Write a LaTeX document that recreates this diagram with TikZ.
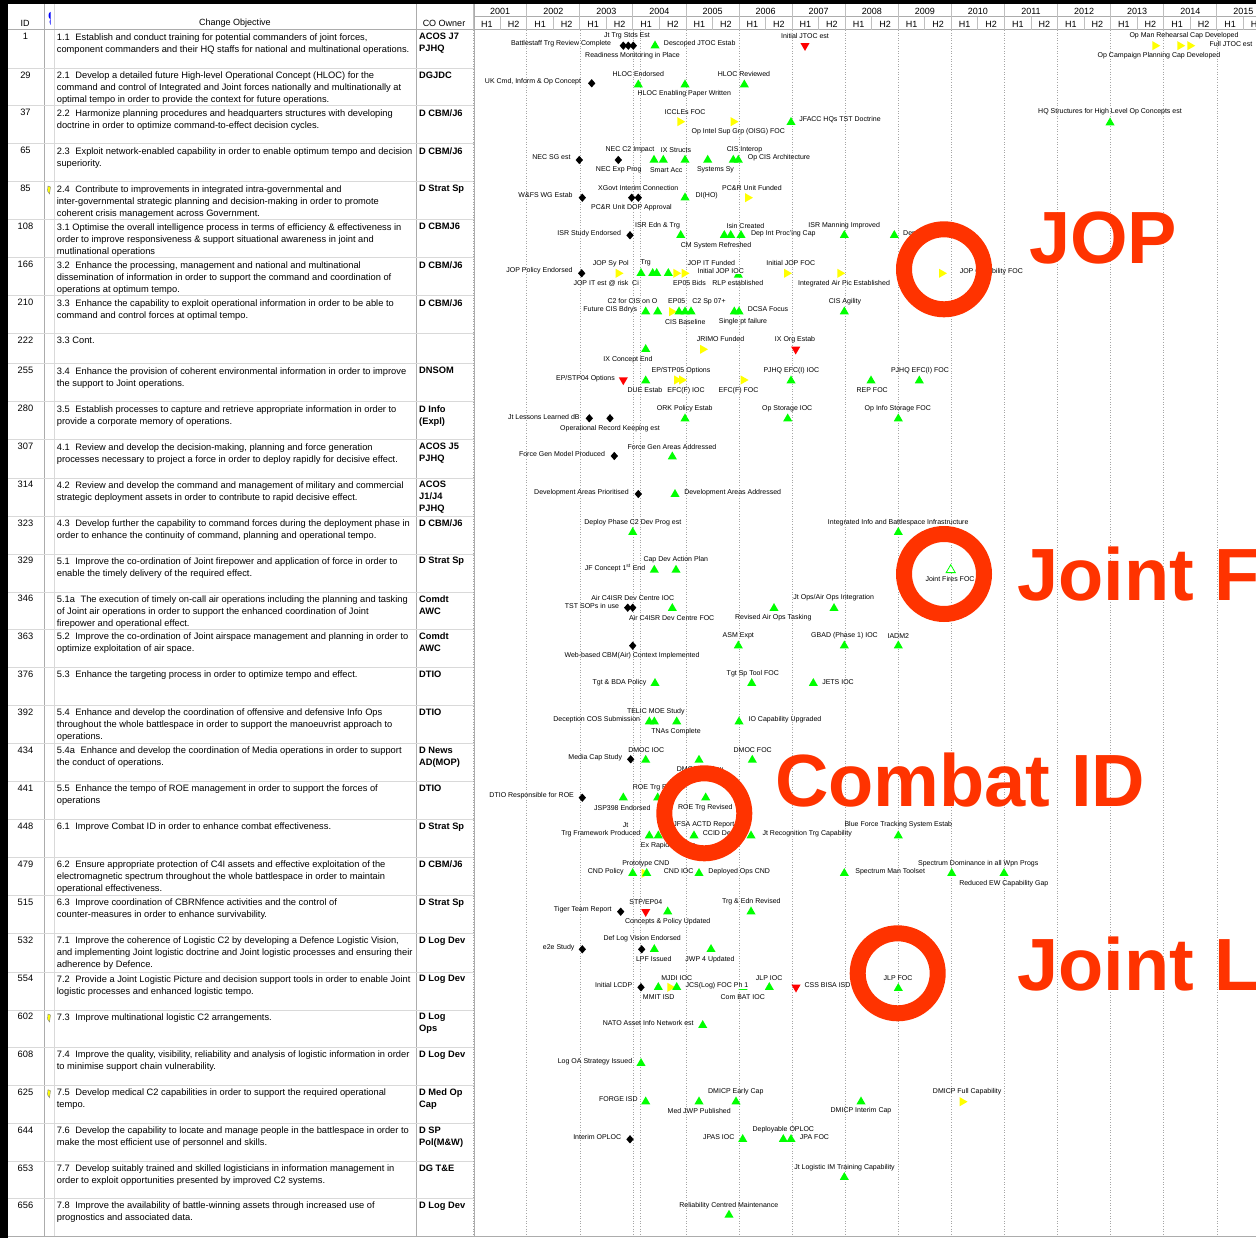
\documentclass[tikz,border=0pt]{standalone}
\usepackage{fontspec}
\setmainfont{Liberation Sans}
\usetikzlibrary{shapes.geometric}

\definecolor{okgreen}{RGB}{0,255,0}
\definecolor{slipyellow}{RGB}{255,255,0}
\definecolor{lateRed}{RGB}{255,0,0}
\definecolor{markRed}{RGB}{255,51,0}

\newcommand{\tabfont}{\fontsize{9.3}{12}\selectfont}
\newcommand{\lblfont}{\fontsize{7}{8}\selectfont}
\newcommand{\hdrfont}{\fontsize{9}{10}\selectfont}
\newcommand{\calloutfont}{\fontsize{74}{80}\selectfont\bfseries}
\newcommand{\cogap}{\hspace{0.6em}}

\begin{document}
\begin{tikzpicture}[x=1pt, y=-1pt,
    hdr/.style={font=\hdrfont, inner sep=0pt}, % Стиль для шапки
    idc/.style={font=\tabfont, inner sep=0pt, anchor=north}, % Номер строки
    obj/.style={font=\tabfont, inner sep=0pt, anchor=north west, align=left}, % Текст цели
    own/.style={font=\tabfont\bfseries, inner sep=0pt, anchor=north west, align=left}, % Владелец
    colline/.style={gray!65, line width=1pt}, % Линии столбцов
    rowline/.style={gray!30, line width=1pt}, % Линии строк
    yearline/.style={gray!70, dotted, line width=0.6pt}, % Линии лет
    lbl/.style={font=\lblfont, inner sep=0pt}, % Подписи вех
    cover/.style={lbl, fill=white, inner sep=0.6pt}, % Подпись поверх вехи
    ok/.style={regular polygon, regular polygon sides=3, fill=okgreen, minimum size=10.5pt, inner sep=0pt}, % Веха выполнена
    hollow/.style={ok, fill=white, draw=okgreen, line width=0.8pt}, % Веха без заливки
    late/.style={ok, fill=lateRed, shape border rotate=180}, % Веха сорвана
    slip/.style={ok, fill=slipyellow, shape border rotate=270}, % Веха сдвинута
    done/.style={diamond, fill=black, minimum width=7.5pt, minimum height=8.5pt, inner sep=0pt}, % Веха завершена
    ring/.style={draw=markRed, line width=16pt}, % Кольцо выделения
    callout/.style={font=\calloutfont, text=markRed, anchor=base west, inner sep=0pt} % Крупная надпись
]

    % Фон и рамка
    \useasboundingbox (0,0) rectangle (1256,1238);
    \clip (0,0) rectangle (1256,1238);
    \fill[white] (0,0) rectangle (1256,1238);
    \fill[black] (0,0) rectangle (1256,4);
    \fill[black] (0,0) rectangle (8,1238);

    % Линии таблицы
    \draw[colline] (44.7,4) -- (44.7,1237);
    \draw[colline, gray!30] (54,4) -- (54,1237);
    \draw[colline] (416.7,4) -- (416.7,1237);
    \draw[colline] (474,4) -- (474,1237);
    \draw[colline] (474,17) -- (1256,17);
    \draw[colline] (8,30) -- (1256,30);
    \draw[colline] (8,1236.7) -- (1256,1236.7);
    \foreach \t in {68.3,106,144,182,220,258,296,333.3,364,402,440,478,516.3,554,592,629.7,667.7,705.7,743.7,781.7,819.7,857.7,895.7,933.7,972,1010,1047.7,1085.7,1123.7,1161.3,1198.7}
        \draw[rowline] (8,\t) -- (474,\t);

    % Шапка таблицы
    \node[hdr] (hID) at (25,23) {ID};
    \node[hdr] (hCO) at (235,23) {Change Objective};
    \node[hdr] (hOwn) at (444,23) {CO Owner};
    \fill[blue] (50.5,19) arc (90:270:2 and 3.5) -- (50.5,25) -- (49.5,22) -- cycle;

    % Шкала времени (годы и полугодия)
    \foreach \yr [count=\k from 0] in {2001,...,2015} {
        \pgfmathsetmacro\xa{473.7+53.08*\k}
        \node[hdr] (Y\yr) at (\xa+26.54,11) {\yr};
        \node[hdr] (H\yr-1) at (\xa+13.27,24) {H1};
        \node[hdr] (H\yr-2) at (\xa+39.81,24) {H2};
        \draw[colline, gray!50] (\xa,4) -- (\xa,30);
        \draw[colline, gray!50] (\xa+26.54,17) -- (\xa+26.54,30);
        \draw[yearline] (\xa,30) -- (\xa,1236);
    }
    \draw[yearline] (640.7,30) -- (640.7,1236);

    % Строки таблицы
    \node[idc] (id1) at (25.5,33.3) {1};
    \node[obj] (co1) at (56.7,33.3) {1.1\cogap Establish and conduct training for potential commanders of joint forces,\\component commanders and their HQ staffs for national and multinational operations.};
    \node[own] (ow1) at (419,33.3) {ACOS J7\\PJHQ};
    \node[idc] (id29) at (25.5,71.6) {29};
    \node[obj] (co29) at (56.7,71.6) {2.1\cogap Develop a detailed future High-level Operational Concept (HLOC) for the\\command and control of Integrated and Joint forces nationally and multinationally at\\optimal tempo in order to provide the context for future operations.};
    \node[own] (ow29) at (419,71.6) {DGJDC};
    \node[idc] (id37) at (25.5,109.3) {37};
    \node[obj] (co37) at (56.7,109.3) {2.2\cogap Harmonize planning procedures and headquarters structures with developing\\doctrine in order to optimize command-to-effect decision cycles.};
    \node[own] (ow37) at (419,109.3) {D CBM/J6};
    \node[idc] (id65) at (25.5,147.3) {65};
    \node[obj] (co65) at (56.7,147.3) {2.3\cogap Exploit network-enabled capability in order to enable optimum tempo and decision\\superiority.};
    \node[own] (ow65) at (419,147.3) {D CBM/J6};
    \node[idc] (id85) at (25.5,185.3) {85};
    \node[obj] (co85) at (56.7,185.3) {2.4\cogap Contribute to improvements in integrated intra-governmental and\\inter-governmental strategic planning and decision-making in order to promote\\coherent crisis management across Government.};
    \node[own] (ow85) at (419,185.3) {D Strat Sp};
    \node[idc] (id108) at (25.5,223.3) {108};
    \node[obj] (co108) at (56.7,223.3) {3.1 Optimise the overall intelligence process in terms of efficiency \& effectiveness in\\order to improve responsiveness \& support situational awareness in joint and\\mutlinational operations};
    \node[own] (ow108) at (419,223.3) {D CBMJ6};
    \node[idc] (id166) at (25.5,261.3) {166};
    \node[obj] (co166) at (56.7,261.3) {3.2\cogap Enhance the processing, management and national and multinational\\dissemination of information in order to support the command and coordination of\\operations at optimum tempo.};
    \node[own] (ow166) at (419,261.3) {D CBM/J6};
    \node[idc] (id210) at (25.5,299.3) {210};
    \node[obj] (co210) at (56.7,299.3) {3.3\cogap Enhance the capability to exploit operational information in order to be able to\\command and control forces at optimal tempo.};
    \node[own] (ow210) at (419,299.3) {D CBM/J6};
    \node[idc] (id222) at (25.5,336.6) {222};
    \node[obj] (co222) at (56.7,336.6) {3.3 Cont.};
    \node[idc] (id255) at (25.5,367.3) {255};
    \node[obj] (co255) at (56.7,367.3) {3.4\cogap Enhance the provision of coherent environmental information in order to improve\\the support to Joint operations.};
    \node[own] (ow255) at (419,367.3) {DNSOM};
    \node[idc] (id280) at (25.5,405.3) {280};
    \node[obj] (co280) at (56.7,405.3) {3.5\cogap Establish processes to capture and retrieve appropriate information in order to\\provide a corporate memory of operations.};
    \node[own] (ow280) at (419,405.3) {D Info\\(Expl)};
    \node[idc] (id307) at (25.5,443.3) {307};
    \node[obj] (co307) at (56.7,443.3) {4.1\cogap Review and develop the decision-making, planning and force generation\\processes necessary to project a force in order to deploy rapidly for decisive effect.};
    \node[own] (ow307) at (419,443.3) {ACOS J5\\PJHQ};
    \node[idc] (id314) at (25.5,481.3) {314};
    \node[obj] (co314) at (56.7,481.3) {4.2\cogap Review and develop the command and management of military and commercial\\strategic deployment assets in order to contribute to rapid decisive effect.};
    \node[own] (ow314) at (419,481.3) {ACOS\\J1/J4\\PJHQ};
    \node[idc] (id323) at (25.5,519.6) {323};
    \node[obj] (co323) at (56.7,519.6) {4.3\cogap Develop further the capability to command forces during the deployment phase in\\order to enhance the continuity of command, planning and operational tempo.};
    \node[own] (ow323) at (419,519.6) {D CBM/J6};
    \node[idc] (id329) at (25.5,557.3) {329};
    \node[obj] (co329) at (56.7,557.3) {5.1\cogap Improve the co-ordination of Joint firepower and application of force in order to\\enable the timely delivery of the required effect.};
    \node[own] (ow329) at (419,557.3) {D Strat Sp};
    \node[idc] (id346) at (25.5,595.3) {346};
    \node[obj] (co346) at (56.7,595.3) {5.1a\cogap The execution of timely on-call air operations including the planning and tasking\\of Joint air operations in order to support the enhanced coordination of Joint\\firepower and operational effect.};
    \node[own] (ow346) at (419,595.3) {Comdt\\AWC};
    \node[idc] (id363) at (25.5,633) {363};
    \node[obj] (co363) at (56.7,633) {5.2\cogap Improve the co-ordination of Joint airspace management and planning in order to\\optimize exploitation of air space.};
    \node[own] (ow363) at (419,633) {Comdt\\AWC};
    \node[idc] (id376) at (25.5,671) {376};
    \node[obj] (co376) at (56.7,671) {5.3\cogap Enhance the targeting process in order to optimize tempo and effect.};
    \node[own] (ow376) at (419,671) {DTIO};
    \node[idc] (id392) at (25.5,709) {392};
    \node[obj] (co392) at (56.7,709) {5.4\cogap Enhance and develop the coordination of offensive and defensive Info Ops\\throughout the whole battlespace in order to support the manoeuvrist approach to\\operations.};
    \node[own] (ow392) at (419,709) {DTIO};
    \node[idc] (id434) at (25.5,747) {434};
    \node[obj] (co434) at (56.7,747) {5.4a\cogap Enhance and develop the coordination of Media operations in order to support\\the conduct of operations.};
    \node[own] (ow434) at (419,747) {D News\\AD(MOP)};
    \node[idc] (id441) at (25.5,785) {441};
    \node[obj] (co441) at (56.7,785) {5.5\cogap Enhance the tempo of ROE management in order to support the forces of\\operations};
    \node[own] (ow441) at (419,785) {DTIO};
    \node[idc] (id448) at (25.5,823) {448};
    \node[obj] (co448) at (56.7,823) {6.1\cogap Improve Combat ID in order to enhance combat effectiveness.};
    \node[own] (ow448) at (419,823) {D Strat Sp};
    \node[idc] (id479) at (25.5,861) {479};
    \node[obj] (co479) at (56.7,861) {6.2\cogap Ensure appropriate protection of C4I assets and effective exploitation of the\\electromagnetic spectrum throughout the whole battlespace in order to maintain\\operational effectiveness.};
    \node[own] (ow479) at (419,861) {D CBM/J6};
    \node[idc] (id515) at (25.5,899) {515};
    \node[obj] (co515) at (56.7,899) {6.3\cogap Improve coordination of CBRNfence activities and the control of\\counter-measures in order to enhance survivability.};
    \node[own] (ow515) at (419,899) {D Strat Sp};
    \node[idc] (id532) at (25.5,937) {532};
    \node[obj] (co532) at (56.7,937) {7.1\cogap Improve the coherence of Logistic C2 by developing a Defence Logistic Vision,\\and implementing Joint logistic doctrine and Joint logistic processes and ensuring their\\adherence by Defence.};
    \node[own] (ow532) at (419,937) {D Log Dev};
    \node[idc] (id554) at (25.5,975.3) {554};
    \node[obj] (co554) at (56.7,975.3) {7.2\cogap Provide a Joint Logistic Picture and decision support tools in order to enable Joint\\logistic processes and enhanced logistic tempo.};
    \node[own] (ow554) at (419,975.3) {D Log Dev};
    \node[idc] (id602) at (25.5,1013.3) {602};
    \node[obj] (co602) at (56.7,1013.3) {7.3\cogap Improve multinational logistic C2 arrangements.};
    \node[own] (ow602) at (419,1013.3) {D Log\\Ops};
    \node[idc] (id608) at (25.5,1051) {608};
    \node[obj] (co608) at (56.7,1051) {7.4\cogap Improve the quality, visibility, reliability and analysis of logistic information in order\\to minimise support chain vulnerability.};
    \node[own] (ow608) at (419,1051) {D Log Dev};
    \node[idc] (id625) at (25.5,1089) {625};
    \node[obj] (co625) at (56.7,1089) {7.5\cogap Develop medical C2 capabilities in order to support the required operational\\tempo.};
    \node[own] (ow625) at (419,1089) {D Med Op\\Cap};
    \node[idc] (id644) at (25.5,1127) {644};
    \node[obj] (co644) at (56.7,1127) {7.6\cogap Develop the capability to locate and manage people in the battlespace in order to\\make the most efficient use of personnel and skills.};
    \node[own] (ow644) at (419,1127) {D SP\\Pol(M\&W)};
    \node[idc] (id653) at (25.5,1164.6) {653};
    \node[obj] (co653) at (56.7,1164.6) {7.7\cogap Develop suitably trained and skilled logisticians in information management in\\order to exploit opportunities presented by improved C2 systems.};
    \node[own] (ow653) at (419,1164.6) {DG T\&E};
    \node[idc] (id656) at (25.5,1202) {656};
    \node[obj] (co656) at (56.7,1202) {7.8\cogap Improve the availability of battle-winning assets through increased use of\\prognostics and associated data.};
    \node[own] (ow656) at (419,1202) {D Log Dev};

    % Заметки в строках 85, 602, 625
    \foreach \t in {182,1010,1085.7}
        \filldraw[fill=slipyellow, draw=gray] (48,\t+4) -- (50.5,\t+5) -- (49.5,\t+12) -- (47.5,\t+9) -- cycle;

    % Строка 1
    \node[lbl] (L1a) at (627,35.7) {Jt Trg Stds Est};
    \node[lbl] (L1b) at (561,43.7) {Battlestaff Trg Review Complete};
    \node[done] (M1a) at (623.3,45.7) {};
    \node[done] (M1b) at (628.3,45.7) {};
    \node[done] (M1c) at (633.3,45.7) {};
    \node[lbl] (L1c) at (632.5,55.7) {Readiness Monitoring in Place};
    \node[ok] (M1d) at (655,45.7) {};
    \node[lbl] (L1d) at (699.7,43.7) {Descoped JTOC Estab};
    \node[lbl] (L1e) at (805,35.7) {Initial JTOC est};
    \node[late] (M1e) at (805,45.7) {};
    \node[lbl] (L1f) at (1184,35.7) {Op Man Rehearsal Cap Developed};
    \node[slip] (M1f) at (1155,45.7) {};
    \node[slip] (M1g) at (1180,45.7) {};
    \node[slip] (M1h) at (1190,45.7) {};
    \node[lbl] (L1g) at (1231,43.7) {Full JTOC est};
    \node[lbl] (L1h) at (1159,55.7) {Op Campaign Planning Cap Developed};

    % Строка 29
    \node[lbl] (L29a) at (533,81.3) {UK Cmd, Inform \& Op Concept};
    \node[done] (M29a) at (591.7,83.3) {};
    \node[lbl] (L29b) at (638.3,73.7) {HLOC Endorsed};
    \node[ok] (M29b) at (638.3,84.7) {};
    \node[ok] (M29c) at (685,84.7) {};
    \node[lbl] (L29c) at (684.3,93.7) {HLOC Enabling Paper Written};
    \node[lbl] (L29d) at (744,73.7) {HLOC Reviewed};
    \node[ok] (M29d) at (744.3,84.7) {};

    % Строка 37
    \node[lbl] (L37a) at (685,111.7) {ICCLEs FOC};
    \node[slip] (M37a) at (680,121.7) {};
    \node[slip] (M37b) at (733.3,121.7) {};
    \node[lbl] (L37b) at (738.3,131.7) {Op Intel Sup Grp (OISG) FOC};
    \node[ok] (M37c) at (791,122.3) {};
    \node[lbl] (L37c) at (840,119.3) {JFACC HQs TST Doctrine};
    \node[lbl] (L37d) at (1110,111.7) {HQ Structures for High Level Op Concepts est};
    \node[ok] (M37d) at (1110,122.7) {};

    % Строка 65
    \node[lbl] (L65a) at (551.5,157.3) {NEC SG est};
    \node[done] (M65a) at (579.3,160) {};
    \node[lbl] (L65b) at (630,149.7) {NEC C2 Impact};
    \node[done] (M65b) at (618.3,160) {};
    \node[lbl] (L65c) at (618.7,169.7) {NEC Exp Prog};
    \node[lbl] (L65d) at (676,149.7) {IX Structs};
    \node[ok] (M65c) at (654,160) {};
    \node[ok] (M65d) at (663.3,160) {};
    \node[ok] (M65e) at (685,160) {};
    \node[ok] (M65f) at (707.7,160) {};
    \node[lbl] (L65e) at (666.2,169.7) {Smart Acc};
    \node[lbl] (L65f) at (715.5,169.7) {Systems Sy};
    \node[lbl] (L65g) at (744.5,149.7) {CIS Interop};
    \node[ok] (M65g) at (733.3,160) {};
    \node[ok] (M65h) at (738.3,160) {};
    \node[lbl] (L65h) at (779,157.3) {Op CIS Architecture};

    % Строка 85
    \node[lbl] (L85a) at (545.5,195.3) {W\&FS WG Estab};
    \node[done] (M85a) at (582.3,197.7) {};
    \node[lbl] (L85b) at (638.3,187.7) {XGovt Interim Connection};
    \node[done] (M85b) at (631.7,197.7) {};
    \node[done] (M85c) at (638.3,197.7) {};
    \node[lbl] (L85c) at (631.5,207.3) {PC\&R Unit DOP Approval};
    \node[ok] (M85d) at (685,197.7) {};
    \node[lbl] (L85d) at (706.7,195.3) {DI(HO)};
    \node[lbl] (L85e) at (752,187.7) {PC\&R Unit Funded};
    \node[slip] (M85e) at (747.7,197.7) {};

    % Строка 108
    \node[lbl] (L108a) at (657.5,225.7) {ISR Edn \& Trg};
    \node[lbl] (L108b) at (589.2,233.3) {ISR Study Endorsed};
    \node[done] (M108a) at (630,235.3) {};
    \node[ok] (M108b) at (680.7,235.3) {};
    \node[lbl] (L108c) at (745.5,225.7) {Isin Created};
    \node[ok] (M108c) at (724.3,235.3) {};
    \node[ok] (M108d) at (730.7,235.3) {};
    \node[ok] (M108e) at (741,235.3) {};
    \node[lbl] (L108d) at (783.3,233.3) {Dep Int Proc'ing Cap};
    \node[lbl] (L108e) at (716,245.3) {CM System Refreshed};
    \node[lbl] (L108f) at (844.2,225.7) {ISR Manning Improved};
    \node[ok] (M108f) at (844.3,235.3) {};
    \node[ok] (M108g) at (894.3,235.3) {};
    \node[lbl, anchor=west] (L108g) at (903,233.3) {Dep ISR FOC};

    % Строка 166
    \node[lbl] (L166a) at (610.8,263.3) {JOP Sy Pol};
    \node[lbl] (L166b) at (645.7,263.3) {Trg};
    \node[lbl] (L166c) at (539.5,271) {JOP Policy Endorsed};
    \node[done] (M166a) at (581.7,273.3) {};
    \node[slip] (M166b) at (618.3,273.3) {};
    \node[lbl] (L166d) at (601,283.3) {JOP IT est @ risk};
    \node[lbl] (L166e) at (635.5,283.3) {Ci};
    \node[ok] (M166c) at (641,273.3) {};
    \node[ok] (M166d) at (652.7,273.3) {};
    \node[ok] (M166e) at (656.7,273.3) {};
    \node[ok] (M166f) at (668.3,273.3) {};
    \node[slip] (M166g) at (676,273.3) {};
    \node[slip] (M166h) at (684.3,273.3) {};
    \node[lbl] (L166f) at (711.3,263.3) {JOP IT Funded};
    \node[ok] (M166i) at (738.3,275) {};
    \node[cover] (L166g) at (720.7,271) {Initial JOP IOC};
    \node[lbl] (L166h) at (689.5,283.3) {EP05 Bids};
    \node[lbl] (L166i) at (737.8,283.3) {RLP established};
    \node[lbl] (L166j) at (790.8,263.3) {Initial JOP FOC};
    \node[slip] (M166j) at (786.7,273.3) {};
    \node[slip] (M166k) at (840,273.3) {};
    \node[lbl] (L166k) at (844,283.3) {Integrated Air Pic Established};
    \node[slip] (M166l) at (941.7,273.3) {};
    \node[lbl] (L166l) at (991.3,271.7) {JOP Capability FOC};

    % Строка 210
    \node[lbl] (L210a) at (632.5,301.3) {C2 for CIS on O};
    \node[lbl] (L210b) at (610.3,309.3) {Future CIS Bdrys};
    \node[ok] (M210a) at (645.7,311.7) {};
    \node[ok] (M210b) at (657.7,311.7) {};
    \node[slip] (M210c) at (671.7,311.7) {};
    \node[ok] (M210d) at (679,311.7) {};
    \node[ok] (M210e) at (685,311.7) {};
    \node[ok] (M210f) at (691,311.7) {};
    \node[lbl] (L210c) at (676.8,301.3) {EP05};
    \node[lbl] (L210d) at (709,301.3) {C2 Sp 07+};
    \node[ok] (M210g) at (734.3,311.7) {};
    \node[ok] (M210h) at (739,311.7) {};
    \node[lbl] (L210e) at (768,309.3) {DCSA Focus};
    \node[lbl] (L210f) at (685.3,321.7) {CIS Baseline};
    \node[lbl] (L210g) at (743,321.7) {Single pt failure};
    \node[lbl] (L210h) at (845,301.3) {CIS Agility};
    \node[ok] (M210i) at (844.3,311.7) {};

    % Строка 222
    \node[lbl] (L222a) at (720.5,339.3) {JRIMO Funded};
    \node[slip] (M222a) at (702.7,349.3) {};
    \node[ok] (M222b) at (645.7,349.3) {};
    \node[lbl] (L222b) at (628,359.3) {IX Concept End};
    \node[lbl] (L222c) at (795,339.3) {IX Org Estab};
    \node[late] (M222c) at (795.7,349.3) {};

    % Строка 255
    \node[lbl] (L255a) at (585.5,378.3) {EP/STP04 Options};
    \node[late] (M255a) at (623.3,380) {};
    \node[ok] (M255b) at (645.7,380.7) {};
    \node[lbl] (L255b) at (645,390.3) {DUE Estab};
    \node[lbl] (L255c) at (681,370.3) {EP/STP05 Options};
    \node[slip] (M255c) at (676.7,380) {};
    \node[slip] (M255d) at (681.7,380) {};
    \node[lbl] (L255d) at (686,390.3) {EFC(F) IOC};
    \node[slip] (M255e) at (743.3,380) {};
    \node[lbl] (L255e) at (738.5,390.3) {EFC(F) FOC};
    \node[lbl] (L255f) at (791.3,370.3) {PJHQ EFC(I) IOC};
    \node[ok] (M255f) at (791,380.7) {};
    \node[ok] (M255g) at (871,380.7) {};
    \node[lbl] (L255g) at (872.2,390.3) {REP FOC};
    \node[lbl] (L255h) at (920,370.3) {PJHQ EFC(I) FOC};
    \node[ok] (M255h) at (919.3,380.7) {};

    % Строка 280
    \node[lbl] (L280a) at (543.8,416.7) {Jt Lessons Learned dB};
    \node[done] (M280a) at (589.3,418.3) {};
    \node[done] (M280b) at (610,418.3) {};
    \node[lbl] (L280b) at (610,428.3) {Operational Record Keeping est};
    \node[lbl] (L280c) at (684.8,408.3) {ORK Policy Estab};
    \node[ok] (M280c) at (685,418.7) {};
    \node[lbl] (L280d) at (787.2,408.3) {Op Storage IOC};
    \node[ok] (M280d) at (787.7,418.7) {};
    \node[lbl] (L280e) at (897.8,408.3) {Op Info Storage FOC};
    \node[ok] (M280e) at (898.3,418.7) {};

    % Строка 307
    \node[lbl] (L307a) at (672,446.7) {Force Gen Areas Addressed};
    \node[ok] (M307a) at (672.3,456.7) {};
    \node[lbl] (L307b) at (562,454.3) {Force Gen Model Produced};
    \node[done] (M307b) at (614.3,456) {};

    % Строка 314
    \node[lbl] (L314a) at (581.5,492.3) {Development Areas Prioritised};
    \node[done] (M314a) at (638.3,494) {};
    \node[ok] (M314b) at (675,494.3) {};
    \node[lbl] (L314b) at (732.7,492.3) {Development Areas Addressed};

    % Строка 323
    \node[lbl] (L323a) at (632.8,522.3) {Deploy Phase C2 Dev Prog est};
    \node[ok] (M323a) at (632.7,532.3) {};
    \node[lbl] (L323b) at (898.2,522.3) {Integrated Info and Battlespace Infrastructure};
    \node[ok] (M323b) at (898.3,532.3) {};

    % Строка 329
    \node[lbl] (L329a) at (675.8,560) {Cap Dev Action Plan};
    \node[lbl] (L329b) at (615,568) {JF Concept 1\textsuperscript{st} End};
    \node[ok] (M329a) at (654.3,570) {};
    \node[ok] (M329b) at (676,570) {};
    \node[hollow] (M329c) at (950.7,570) {};
    \node[lbl] (L329c) at (950,579.3) {Joint Fires FOC};

    % Строка 346
    \node[lbl] (L346a) at (632.8,597.7) {Air C4ISR Dev Centre IOC};
    \node[lbl] (L346b) at (592,605.7) {TST SOPs in use};
    \node[done] (M346a) at (627.7,607.7) {};
    \node[done] (M346b) at (632.7,607.7) {};
    \node[ok] (M346c) at (672.3,608.3) {};
    \node[lbl] (L346c) at (671.7,617.7) {Air C4ISR Dev Centre FOC};
    \node[ok] (M346d) at (774,608.3) {};
    \node[lbl] (L346d) at (773.3,617.7) {Revised Air Ops Tasking};
    \node[lbl] (L346e) at (833.7,597.7) {Jt Ops/Air Ops Integration};
    \node[ok] (M346e) at (834,608.3) {};

    % Строка 363
    \node[lbl] (L363a) at (738.3,636) {ASM Expt};
    \node[ok] (M363a) at (738.3,645.7) {};
    \node[lbl] (L363b) at (844.5,636) {GBAD (Phase 1) IOC};
    \node[ok] (M363b) at (844.3,645.7) {};
    \node[lbl] (L363c) at (898.3,636) {IADM2};
    \node[ok] (M363c) at (898.3,645.7) {};
    \node[done] (M363d) at (632.7,645.7) {};
    \node[lbl] (L363d) at (632,655.7) {Web-based CBM(Air) Context Implemented};

    % Строка 376
    \node[lbl] (L376a) at (619.5,682.3) {Tgt \& BDA Policy};
    \node[ok] (M376a) at (655,683.3) {};
    \node[lbl] (L376b) at (752.8,674) {Tgt Sp Tool FOC};
    \node[ok] (M376b) at (751.7,683.3) {};
    \node[ok] (M376c) at (813.3,683.3) {};
    \node[lbl] (L376c) at (838,682.3) {JETS IOC};

    % Строка 392
    \node[lbl] (L392a) at (655.8,711.7) {TELIC MOE Study};
    \node[lbl] (L392b) at (596.7,720) {Deception COS Submission};
    \node[ok] (M392a) at (649.3,721.7) {};
    \node[ok] (M392b) at (654.3,721.7) {};
    \node[ok] (M392c) at (676.7,721.7) {};
    \node[lbl] (L392c) at (676,731.7) {TNAs Complete};
    \node[ok] (M392d) at (739,721.7) {};
    \node[lbl] (L392d) at (785,720) {IO Capability Upgraded};

    % Строка 434
    \node[lbl] (L434a) at (646.2,750) {DMOC IOC};
    \node[lbl] (L434b) at (595.3,757.7) {Media Cap Study};
    \node[done] (M434a) at (630.7,759.3) {};
    \node[ok] (M434b) at (645.7,760) {};
    \node[ok] (M434c) at (699,760) {};
    \node[lbl] (L434c) at (752.7,750) {DMOC FOC};
    \node[ok] (M434d) at (752.3,760) {};
    \node[lbl, anchor=west] (L434d) at (676.7,769.3) {DMOC Review};

    % Строка 441
    \node[lbl] (L441a) at (531.7,795.7) {DTIO Responsible for ROE};
    \node[done] (M441a) at (582.3,797.7) {};
    \node[ok] (M441b) at (623.3,797.7) {};
    \node[lbl] (L441b) at (622.3,807.7) {JSP398 Endorsed};
    \node[lbl, anchor=west] (L441c) at (632.7,787.7) {ROE Trg Review};
    \node[ok] (M441c) at (657.7,797.7) {};
    \node[ok] (M441d) at (705.7,797.7) {};
    \node[lbl] (L441d) at (705.3,807.7) {ROE Trg Revised};

    % Строка 448
    \node[lbl] (L448a) at (625.7,825) {Jt};
    \node[lbl] (L448b) at (600.8,833.3) {Trg Framework Produced};
    \node[ok] (M448a) at (649.3,835.7) {};
    \node[ok] (M448b) at (658.3,835.7) {};
    \node[lbl, anchor=west] (L448c) at (640.7,846) {Ex Rapid Alliance};
    \node[lbl] (L448d) at (703.8,825) {JFSA ACTD Report};
    \node[ok] (M448c) at (694,835.7) {};
    \node[lbl, anchor=west] (L448e) at (702.7,833.3) {CCID Demo};
    \node[ok] (M448d) at (751,835.7) {};
    \node[lbl] (L448f) at (807.2,833.3) {Jt Recognition Trg Capability};
    \node[lbl] (L448g) at (898.3,825) {Blue Force Tracking System Estab};
    \node[ok] (M448e) at (898.3,835.7) {};

    % Строка 479
    \node[lbl] (L479a) at (645.8,863.3) {Prototype CND};
    \node[lbl] (L479b) at (605.8,871.3) {CND Policy};
    \node[ok] (M479a) at (632.7,873.3) {};
    \node[slip] (M479b) at (644.3,873.3) {};
    \node[ok] (M479c) at (646.7,873.3) {};
    \node[lbl] (L479c) at (678.7,871.3) {CND IOC};
    \node[ok] (M479d) at (699,873.3) {};
    \node[lbl] (L479d) at (739.2,871.3) {Deployed Ops CND};
    \node[ok] (M479e) at (844.3,873.3) {};
    \node[lbl] (L479e) at (890.2,871.3) {Spectrum Man Toolset};
    \node[lbl] (L479f) at (978.2,863.3) {Spectrum Dominance in all Wpn Progs};
    \node[ok] (M479f) at (951.7,873.3) {};
    \node[ok] (M479g) at (1004,873.3) {};
    \node[lbl] (L479g) at (1003.8,883.3) {Reduced EW Capability Gap};

    % Строка 515
    \node[lbl] (L515a) at (645.8,901.7) {STP/EP04};
    \node[lbl] (L515b) at (582.8,909.3) {Tiger Team Report};
    \node[done] (M515a) at (620.7,911.7) {};
    \node[late] (M515b) at (645.7,911.7) {};
    \node[ok] (M515c) at (667.7,911.7) {};
    \node[lbl] (L515c) at (667.7,921.7) {Concepts \& Policy Updated};
    \node[lbl] (L515d) at (751.3,901.7) {Trg \& Edn Revised};
    \node[ok] (M515d) at (751,911.7) {};

    % Строка 532
    \node[lbl] (L532a) at (642.2,939) {Def Log Vision Endorsed};
    \node[lbl] (L532b) at (558.7,947.3) {e2e Study};
    \node[done] (M532a) at (582.3,949.3) {};
    \node[done] (M532b) at (641.7,949.3) {};
    \node[ok] (M532c) at (654.3,949.3) {};
    \node[lbl] (L532c) at (653.8,959.3) {LPF Issued};
    \node[ok] (M532d) at (711,949.3) {};
    \node[lbl] (L532d) at (710,959.3) {JWP 4 Updated};

    % Строка 554
    \node[lbl] (L554a) at (676.7,977.7) {MJDI IOC};
    \node[lbl] (L554b) at (613.7,985.3) {Initial LCDP};
    \node[done] (M554a) at (641,987.3) {};
    \node[ok] (M554b) at (658.3,987.3) {};
    \node[slip] (M554c) at (670,987.3) {};
    \node[ok] (M554d) at (676.7,987.3) {};
    \node[lbl] (L554c) at (658.7,997.3) {MMIT ISD};
    \node[ok] (M554e) at (743,987.3) {};
    \node[cover] (L554d) at (717,985.3) {JCS(Log) FOC Ph 1};
    \node[lbl] (L554e) at (742.7,997.3) {Com BAT IOC};
    \node[lbl] (L554f) at (769.2,977.7) {JLP IOC};
    \node[ok] (M554f) at (769.3,987.3) {};
    \node[late] (M554g) at (796,987.3) {};
    \node[lbl] (L554g) at (827.5,985.3) {CSS BISA ISD};
    \node[lbl] (L554h) at (898,977.7) {JLP FOC};
    \node[ok] (M554h) at (898.3,988.3) {};

    % Строка 602
    \node[lbl] (L602a) at (648.3,1023.3) {NATO Asset Info Network est};
    \node[ok] (M602a) at (702.7,1025.3) {};

    % Строка 608
    \node[lbl] (L608a) at (595,1061.7) {Log OA Strategy Issued};
    \node[ok] (M608a) at (641,1063.3) {};

    % Строка 625
    \node[lbl] (L625a) at (618.3,1099.3) {FORGE ISD};
    \node[ok] (M625a) at (645.7,1101.7) {};
    \node[ok] (M625b) at (699,1101.7) {};
    \node[lbl] (L625b) at (699.2,1111) {Med JWP Published};
    \node[lbl] (L625c) at (735.8,1091.7) {DMICP Early Cap};
    \node[ok] (M625c) at (736,1101.7) {};
    \node[ok] (M625d) at (861,1101.7) {};
    \node[lbl] (L625d) at (861,1111) {DMICP Interim Cap};
    \node[lbl] (L625e) at (967.2,1091.7) {DMICP Full Capability};
    \node[slip] (M625e) at (962.3,1101.7) {};

    % Строка 644
    \node[lbl] (L644a) at (597.2,1137.3) {Interim OPLOC};
    \node[done] (M644a) at (630,1139.3) {};
    \node[lbl] (L644b) at (718.7,1137.3) {JPAS IOC};
    \node[ok] (M644b) at (742.7,1139.3) {};
    \node[lbl] (L644c) at (783.3,1129.3) {Deployable OPLOC};
    \node[ok] (M644c) at (783.3,1139.3) {};
    \node[ok] (M644d) at (791,1139.3) {};
    \node[lbl] (L644d) at (814.5,1137.3) {JPA FOC};

    % Строка 653
    \node[lbl] (L653a) at (844.5,1167.7) {Jt Logistic IM Training Capability};
    \node[ok] (M653a) at (844.3,1177.3) {};

    % Строка 656
    \node[lbl] (L656a) at (728.8,1205.7) {Reliability Centred Maintenance};
    \node[ok] (M656a) at (729,1215) {};

    % Выделения (кольца и крупные надписи)
    \draw[ring] (944,269.3) circle (40);
    \draw[ring] (944,574) circle (40);
    \draw[ring] (704.3,813.3) circle (40);
    \draw[ring] (897.7,973.3) circle (40);
    \node[callout] (JOP) at (1029,263.3) {JOP};
    \node[callout] (JF) at (1017,600) {Joint F};
    \node[callout] (CID) at (775,806.7) {Combat ID};
    \node[callout] (JL) at (1017,990) {Joint L};

\end{tikzpicture}
\end{document}
